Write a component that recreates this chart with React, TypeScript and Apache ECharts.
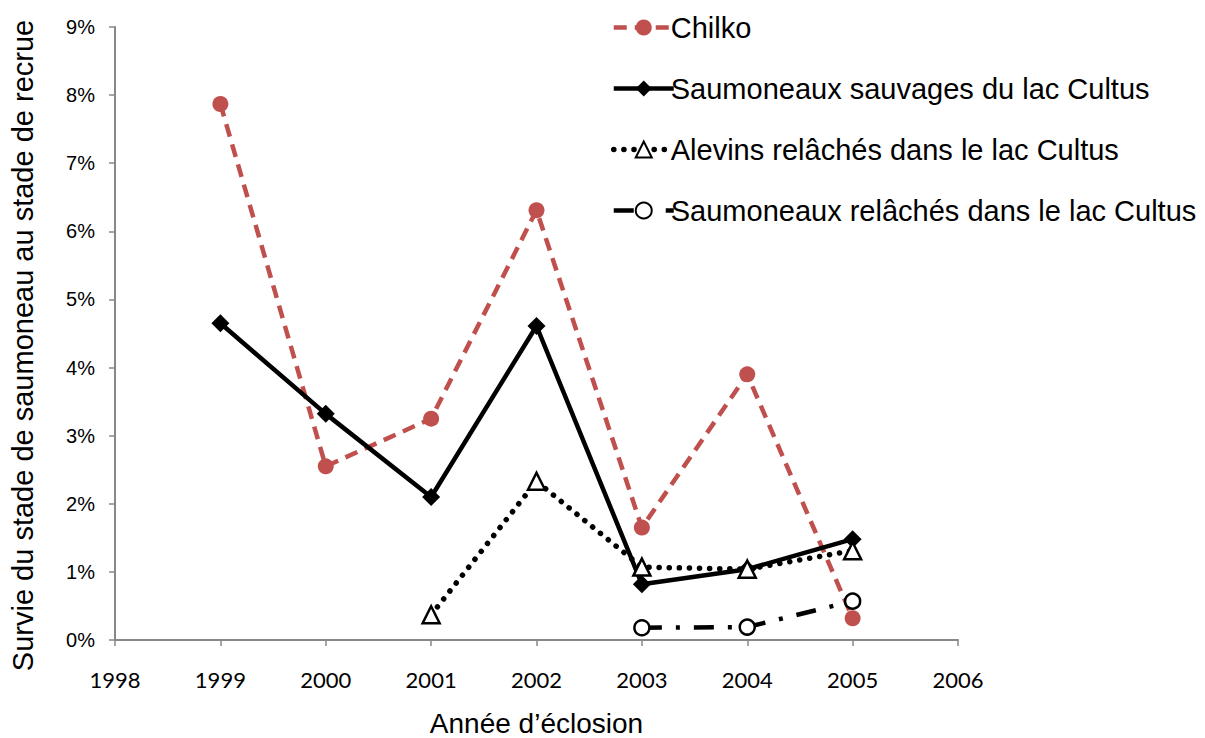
import React, { useEffect, useRef } from "react";
import * as echarts from "echarts";

const years = [1999, 2000, 2001, 2002, 2003, 2004, 2005];
const chilko = [7.87, 2.55, 3.25, 6.31, 1.65, 3.9, 0.32];
const wildSmolts = [4.65, 3.32, 2.1, 4.61, 0.82, 1.04, 1.48];
const fryYears = [2001, 2002, 2003, 2004, 2005];
const fryReleased = [0.37, 2.33, 1.07, 1.04, 1.31];
const smoltYears = [2003, 2004, 2005];
const smoltsReleased = [0.18, 0.19, 0.57];

const seriesNames = [
  "Chilko",
  "Saumoneaux sauvages du lac Cultus",
  "Alevins relâchés dans le lac Cultus",
  "Saumoneaux relâchés dans le lac Cultus",
];

const pair = (xs: number[], ys: number[]) => xs.map((x, i) => [x, ys[i]]);

export default function App() {
  const ref = useRef<HTMLDivElement>(null);
  useEffect(() => {
    if (!ref.current) return;
    const chart = echarts.init(ref.current, null, { renderer: "svg" });
    const font = "'Liberation Sans', Arial, sans-serif";
    chart.setOption({
      animation: false,
      textStyle: { fontFamily: font },
      grid: { left: 115, right: 247, top: 27, bottom: 98, outerBoundsMode: "none", containLabel: false },
      legend: {
        orient: "vertical",
        left: 606,
        top: 8,
        itemWidth: 60,
        itemHeight: 20,
        itemGap: 32,
        lineStyle: { width: "inherit" },
        textStyle: { fontSize: 29, color: "#000", fontFamily: font, padding: [0, 0, 0, -8] },
        data: seriesNames,
      },
      xAxis: {
        type: "value",
        min: 1998,
        max: 2006,
        interval: 1,
        name: "Année d’éclosion",
        nameLocation: "middle",
        nameGap: 69,
        nameTextStyle: { fontSize: 28, lineHeight: 28, color: "#000", fontFamily: font },
        axisLine: { lineStyle: { color: "#888", width: 2 } },
        axisTick: { show: true, length: 6, lineStyle: { color: "#888", width: 1.5 } },
        axisLabel: {
          fontSize: 22,
          color: "#000",
          margin: 28,
          fontFamily: "Lato, 'Open Sans', sans-serif",
          formatter: (v: number) => String(v),
        },
        splitLine: { show: false },
      },
      yAxis: {
        type: "value",
        min: 0,
        max: 9,
        interval: 1,
        name: "Survie du stade de saumoneau au stade de recrue",
        nameLocation: "middle",
        nameGap: 78,
        nameTextStyle: { fontSize: 29, color: "#000", fontFamily: font, padding: [0, 24, 0, 0] },
        axisLine: { show: true, lineStyle: { color: "#888", width: 2 } },
        axisTick: { show: true, length: 6, lineStyle: { color: "#888", width: 1.5 } },
        axisLabel: { fontSize: 20, color: "#000", margin: 20, formatter: "{value}%", fontFamily: font },
        splitLine: { show: false },
      },
      series: [
        {
          name: seriesNames[0],
          type: "line",
          data: pair(years, chilko),
          symbol: "circle",
          symbolSize: 16,
          itemStyle: { color: "#C0504D", borderWidth: 0 },
          lineStyle: { color: "#C0504D", width: 4.5, type: [13, 8] },
          z: 2,
        },
        {
          name: seriesNames[1],
          type: "line",
          data: pair(years, wildSmolts),
          symbol: "diamond",
          symbolSize: 18,
          itemStyle: { color: "#000", borderWidth: 0 },
          lineStyle: { color: "#000", width: 4.5, type: "solid" },
          z: 3,
        },
        {
          name: seriesNames[2],
          type: "line",
          data: pair(fryYears, fryReleased),
          symbol: "triangle",
          symbolSize: 17,
          itemStyle: { color: "#fff", borderColor: "#000", borderWidth: 2.5 },
          lineStyle: { color: "#000", width: 5.5, type: [0.1, 10], cap: "round" },
          z: 4,
        },
        {
          name: seriesNames[3],
          type: "line",
          data: pair(smoltYears, smoltsReleased),
          symbol: "circle",
          symbolSize: 15,
          itemStyle: { color: "#fff", borderColor: "#000", borderWidth: 2.5 },
          lineStyle: { color: "#000", width: 4.5, type: [20, 14, 4, 14] },
          z: 4,
        },
      ],
    });
    return () => chart.dispose();
  }, []);
  return <div ref={ref} style={{ width: 1205, height: 738, position: "absolute", left: 0, top: 0 }} />;
}
